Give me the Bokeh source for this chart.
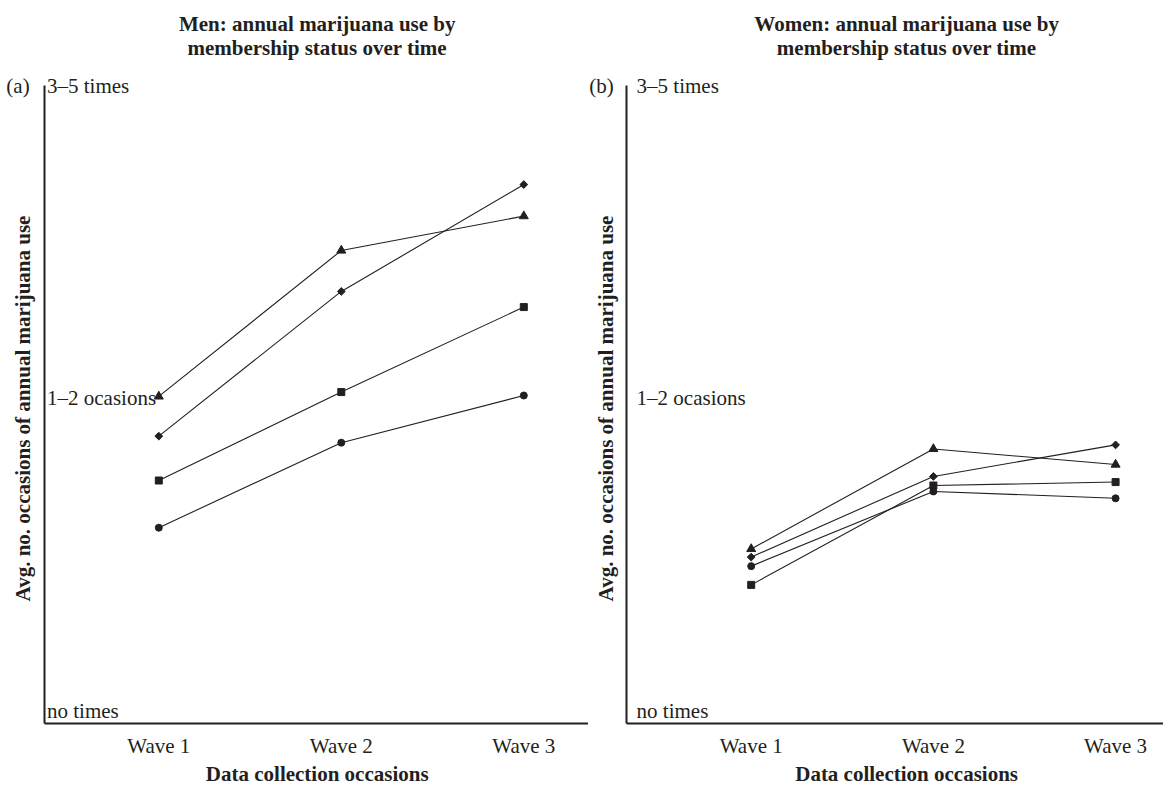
import math
from bokeh.plotting import figure
from bokeh.models import FixedTicker, LabelSet, ColumnDataSource, Label, Range1d
from bokeh.layouts import row
from bokeh.embed import file_html
from bokeh.resources import INLINE

# ---- data ----
waves = [1, 2, 3]
wave_labels = ["Wave 1", "Wave 2", "Wave 3"]
level_values = [0, 1, 2]
level_labels = ["no times", "1\u20132 ocasions", "3\u20135 times"]

men_triangle = [1.005, 1.472, 1.582]
men_diamond = [0.878, 1.341, 1.683]
men_square = [0.736, 1.019, 1.291]
men_circle = [0.585, 0.857, 1.008]

women_triangle = [0.517, 0.837, 0.787]
women_diamond = [0.491, 0.749, 0.850]
women_circle = [0.462, 0.701, 0.679]
women_square = [0.402, 0.720, 0.731]

men_title = ["Men: annual marijuana use by", "membership status over time"]
women_title = ["Women: annual marijuana use by", "membership status over time"]
y_label = "Avg. no. occasions of annual marijuana use"
x_label = "Data collection occasions"

FONT = "Liberation Serif"
INK = "#231f20"
FS = "21px"

# vertical view: plot area spans the whole canvas; axes drawn at fixed data positions
Y_START, Y_AXIS_BOTTOM, Y_TOP, Y_END = -0.24, -0.0416, 2.0, 2.272


def no_ticks(ax):
    ax.major_tick_out = 0
    ax.major_tick_in = 0
    ax.minor_tick_out = 0
    ax.minor_tick_in = 0
    ax.major_label_standoff = 0
    ax.axis_line_width = 2
    ax.axis_line_color = INK


def panel(tag, title_lines, series, width, x_start, x_end, axis_x, axis_end, level_offset, tag_offset):
    p = figure(width=width, height=785,
               x_range=Range1d(x_start, x_end), y_range=Range1d(Y_START, Y_END),
               output_backend="svg", toolbar_location=None,
               min_border_left=0, min_border_right=0,
               min_border_top=0, min_border_bottom=0)
    p.xgrid.visible = False
    p.ygrid.visible = False
    p.outline_line_color = None

    # x axis (line only, at a fixed location)
    xa = p.xaxis[0]
    xa.ticker = FixedTicker(ticks=[])
    xa.fixed_location = Y_AXIS_BOTTOM
    xa.bounds = (axis_x, axis_end)
    no_ticks(xa)

    # y axis (line only, at a fixed location)
    ya = p.yaxis[0]
    ya.ticker = FixedTicker(ticks=[])
    ya.fixed_location = axis_x
    ya.bounds = (Y_AXIS_BOTTOM, Y_TOP)
    no_ticks(ya)

    # series
    for vals, marker, size, ang in series:
        p.line(waves, vals, line_color=INK, line_width=1.1)
        p.scatter(waves, vals, marker=marker, size=size, angle=ang,
                  fill_color=INK, line_color=INK)

    # wave labels under the x axis
    wsrc = ColumnDataSource(dict(x=waves, y=[Y_AXIS_BOTTOM] * len(waves), text=wave_labels))
    p.add_layout(LabelSet(x="x", y="y", text="text", source=wsrc, y_offset=-22,
                          text_font=FONT, text_font_size=FS, text_color=INK,
                          text_baseline="middle", text_align="center"))

    # level labels beside the y axis
    src = ColumnDataSource(dict(x=[axis_x] * len(level_values), y=level_values, text=level_labels))
    p.add_layout(LabelSet(x="x", y="y", text="text", source=src, x_offset=level_offset,
                          text_font=FONT, text_font_size=FS, text_color=INK,
                          text_baseline="middle", text_align="left"))

    # y axis title (rotated)
    p.add_layout(Label(x=axis_x, y=(Y_AXIS_BOTTOM + Y_TOP) / 2, x_offset=-21, y_offset=-4,
                       text=y_label, angle=math.pi / 2, text_font=FONT, text_font_size=FS,
                       text_font_style="bold", text_color=INK,
                       text_align="center", text_baseline="middle"))

    # panel tag
    p.add_layout(Label(x=axis_x, y=Y_TOP, x_offset=tag_offset, text=tag, text_font=FONT,
                       text_font_size=FS, text_color=INK, text_align="center",
                       text_baseline="middle"))

    center = (axis_x + axis_end) / 2
    # titles (two lines)
    for line, off in zip(title_lines, [62, 38]):
        p.add_layout(Label(x=center, y=Y_TOP, y_offset=off, text=line, text_font=FONT,
                           text_font_size=FS, text_font_style="bold", text_color=INK,
                           text_align="center", text_baseline="middle"))
    # x axis title
    p.add_layout(Label(x=center, y=Y_AXIS_BOTTOM, y_offset=-50, text=x_label, text_font=FONT,
                       text_font_size=FS, text_font_style="bold", text_color=INK,
                       text_align="center", text_baseline="middle"))
    return p


men_series = [(men_triangle, "triangle", 9, 0), (men_diamond, "square", 5.5, math.pi / 4),
              (men_square, "square", 7, 0), (men_circle, "circle", 7, 0)]
women_series = [(women_triangle, "triangle", 9, 0), (women_diamond, "square", 5.5, math.pi / 4),
                (women_square, "square", 7, 0), (women_circle, "circle", 7, 0)]

left = panel("(a)", men_title, men_series, 588, 0.1326, 3.3545, 0.371, 3.365, 3, -26)
right = panel("(b)", women_title, women_series, 575, 0.107, 3.263, 0.316, 3.39, 10, -25)

layout = row(left, right, spacing=0)
open("out.html", "w").write(file_html(layout, INLINE))
